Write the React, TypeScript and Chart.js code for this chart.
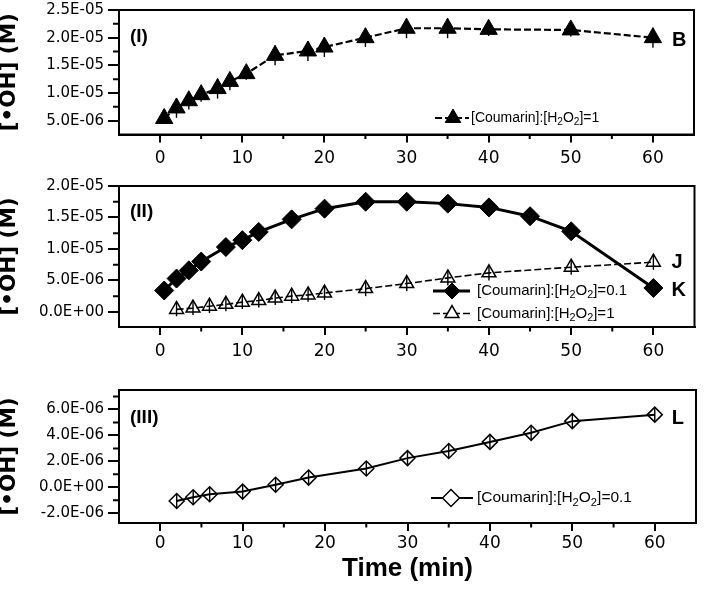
import React, { useEffect, useRef } from 'react';
import { Chart, registerables } from 'chart.js';
import { drawPoint } from 'chart.js/helpers';

Chart.register(...registerables);

const TICK_FONT = "'DejaVu Sans', sans-serif";
const TEXT_FONT = "'Liberation Sans', Arial, sans-serif";
const TITLE_FONT_Y = "'DejaVu Sans', sans-serif";

// ---------------- data ----------------
const xTickValues = [0, 10, 20, 30, 40, 50, 60];
const xMinorValues = [5, 15, 25, 35, 45, 55];
const xTitle = 'Time (min)';
const yTitle = '[•OH] (M)';

const labelRatio1 = '[Coumarin]:[H2O2]=1';
const labelRatio01 = '[Coumarin]:[H2O2]=0.1';

// Panel (I) – series B
const timeB = [0.5, 2, 3.5, 5, 7, 8.5, 10.5, 14, 18, 20, 25, 30, 35, 40, 50, 60];
const ohB = [5.4e-6, 7.3e-6, 8.6e-6, 9.7e-6, 1.08e-5, 1.21e-5, 1.35e-5, 1.68e-5, 1.76e-5, 1.83e-5, 2.0e-5, 2.17e-5, 2.17e-5, 2.15e-5, 2.14e-5, 2.0e-5];
const errB = [0.9e-6, 1.8e-6, 1.6e-6, 1.3e-6, 1.8e-6, 1.6e-6, 1.1e-6, 1.8e-6, 1.8e-6, 1.8e-6, 1.7e-6, 1.8e-6, 1.8e-6, 1.2e-6, 1.2e-6, 1.8e-6];
const yTicksI = [5e-6, 1.0e-5, 1.5e-5, 2.0e-5, 2.5e-5];
const yMinorI = [7.5e-6, 1.25e-5, 1.75e-5, 2.25e-5];

// Panel (II) – series K (ratio 0.1) and J (ratio 1)
const timeK = [0.5, 2, 3.5, 5, 8, 10, 12, 16, 20, 25, 30, 35, 40, 45, 50, 60];
const ohK = [3.4e-6, 5.3e-6, 6.6e-6, 8.0e-6, 1.03e-5, 1.14e-5, 1.27e-5, 1.47e-5, 1.64e-5, 1.75e-5, 1.75e-5, 1.72e-5, 1.66e-5, 1.52e-5, 1.28e-5, 3.8e-6];
const timeJ = [2, 4, 6, 8, 10, 12, 14, 16, 18, 20, 25, 30, 35, 40, 50, 60];
const ohJ = [4e-7, 6e-7, 9e-7, 1.2e-6, 1.55e-6, 1.8e-6, 2.2e-6, 2.5e-6, 2.7e-6, 3.0e-6, 3.7e-6, 4.5e-6, 5.4e-6, 6.2e-6, 7.1e-6, 7.9e-6];
const errJ = [1.1e-6, 1.1e-6, 1.1e-6, 1.1e-6, 1.1e-6, 1.1e-6, 1.1e-6, 1.1e-6, 1.1e-6, 1.1e-6, 1.2e-6, 1.2e-6, 1.2e-6, 1.2e-6, 1.2e-6, 1.2e-6];
const yTicksII = [0, 5e-6, 1.0e-5, 1.5e-5, 2.0e-5];
const yMinorII = [2.5e-6, 7.5e-6, 1.25e-5, 1.75e-5];

// Panel (III) – series L
const timeL = [2, 4, 6, 10, 14, 18, 25, 30, 35, 40, 45, 50, 60];
const ohL = [-1.05e-6, -7.7e-7, -5.3e-7, -3.3e-7, 2.0e-7, 7.5e-7, 1.45e-6, 2.25e-6, 2.8e-6, 3.5e-6, 4.2e-6, 5.1e-6, 5.6e-6];
const errL = [0.55e-6, 0.55e-6, 0.55e-6, 0.55e-6, 0.55e-6, 0.55e-6, 0.55e-6, 0.55e-6, 0.55e-6, 0.55e-6, 0.55e-6, 0.55e-6, 0.55e-6];
const yTicksIII = [-2e-6, 0, 2e-6, 4e-6, 6e-6];
const yMinorIII = [-1e-6, 1e-6, 3e-6, 5e-6, 7e-6];

// ---------------- helpers ----------------
function sci(v: number): string {
  const s = v.toExponential(1);
  const [m, e] = s.split('e');
  const n = parseInt(e, 10);
  const sign = n < 0 ? '-' : '+';
  const mm = Math.abs(v) < 1e-15 ? '0.0' : m;
  return `${mm}E${sign}${String(Math.abs(n)).padStart(2, '0')}`;
}

function pts(xs: number[], ys: number[]) {
  return xs.map((x, i) => ({ x, y: ys[i] }));
}

function drawFormula(ctx: CanvasRenderingContext2D, text: string, x: number, y: number, size: number) {
  const parts = text.split(/(?<=[A-Za-z])(\d)/);
  let cx = x;
  ctx.textAlign = 'left';
  ctx.textBaseline = 'middle';
  parts.forEach((part, i) => {
    if (!part) return;
    const sub = i % 2 === 1;
    const fs = sub ? size * 0.72 : size;
    ctx.font = `${fs}px ${TEXT_FONT}`;
    ctx.fillText(part, cx, sub ? y + size * 0.3 : y);
    cx += ctx.measureText(part).width;
  });
}

type Decor = {
  yMinor: number[];
  panelLabel: string;
  panelDy: number;
  endLabels: { text: string; dataset: number; dx: number; dy: number }[];
  legend: {
    x0: number; x1: number; xm: number; xt: number; dy: number; rowGap: number; fontSize: number;
    items: { dataset: number; text: string; radius: number }[];
  };
};

function makeDecor(d: Decor) {
  return {
    id: 'decor',
    afterDatasetsDraw(chart: any) {
      const ctx: CanvasRenderingContext2D = chart.ctx;
      const xs = chart.scales.x;
      const ys = chart.scales.y;
      ctx.save();
      ctx.strokeStyle = '#000';
      ctx.lineWidth = 1.4;
      chart.data.datasets.forEach((ds: any) => {
        if (!ds.errors) return;
        ds.data.forEach((p: any, i: number) => {
          const e = ds.errors[i];
          const px = xs.getPixelForValue(p.x);
          ctx.beginPath();
          ctx.moveTo(px, ys.getPixelForValue(p.y - e));
          ctx.lineTo(px, ys.getPixelForValue(p.y + e));
          ctx.stroke();
        });
      });
      ctx.restore();
    },
    afterDraw(chart: any) {
      const ctx: CanvasRenderingContext2D = chart.ctx;
      const ca = chart.chartArea;
      const xs = chart.scales.x;
      const ys = chart.scales.y;
      ctx.save();
      ctx.strokeStyle = '#000';
      ctx.lineWidth = 2;
      ctx.strokeRect(ca.left, ca.top, ca.right - ca.left, ca.bottom - ca.top);
      // minor ticks
      ctx.beginPath();
      xMinorValues.forEach((v) => {
        const px = xs.getPixelForValue(v);
        ctx.moveTo(px, ca.bottom);
        ctx.lineTo(px, ca.bottom + 4.5);
      });
      d.yMinor.forEach((v) => {
        if (v < ys.min || v > ys.max) return;
        const py = ys.getPixelForValue(v);
        ctx.moveTo(ca.left, py);
        ctx.lineTo(ca.left - 6, py);
      });
      ctx.stroke();
      // panel label
      ctx.fillStyle = '#000';
      ctx.textAlign = 'left';
      ctx.textBaseline = 'middle';
      ctx.font = `bold 19px ${TEXT_FONT}`;
      ctx.fillText(d.panelLabel, ca.left + 11, ca.top + d.panelDy);
      // end labels
      d.endLabels.forEach((l) => {
        const meta = chart.getDatasetMeta(l.dataset);
        const pt = meta.data[meta.data.length - 1];
        ctx.font = `bold 20px ${TEXT_FONT}`;
        ctx.fillText(l.text, pt.x + l.dx, pt.y + l.dy);
      });
      // legend
      const lg = d.legend;
      lg.items.forEach((it, k) => {
        const ds = chart.data.datasets[it.dataset];
        const y = ca.top + lg.dy + k * lg.rowGap;
        ctx.save();
        ctx.strokeStyle = '#000';
        ctx.lineWidth = ds.borderWidth;
        ctx.setLineDash(ds.borderDash || []);
        ctx.beginPath();
        ctx.moveTo(ca.left + lg.x0, y);
        ctx.lineTo(ca.left + lg.x1, y);
        ctx.stroke();
        ctx.setLineDash([]);
        ctx.fillStyle = ds.pointBackgroundColor === '#000' ? '#000' : '#fff';
        ctx.lineWidth = ds.pointBorderWidth;
        drawPoint(ctx, { pointStyle: ds.pointStyle, radius: it.radius, rotation: 0, borderWidth: ds.pointBorderWidth } as any, ca.left + lg.xm, y);
        ctx.restore();
        ctx.fillStyle = '#000';
        drawFormula(ctx, it.text, ca.left + lg.xt, y, lg.fontSize);
      });
      ctx.restore();
    },
  };
}

function xScale(height: number, pad: number, showTitle: boolean) {
  return {
    type: 'linear',
    min: -5,
    max: 65,
    afterBuildTicks: (s: any) => {
      s.ticks = xTickValues.map((v) => ({ value: v }));
    },
    afterFit: (s: any) => {
      s.height = height;
    },
    ticks: {
      callback: (v: any) => String(v),
      padding: pad,
      color: '#000',
      maxRotation: 0,
      autoSkip: false,
      font: { family: TICK_FONT, size: 17 },
    },
    grid: { display: true, drawOnChartArea: false, drawTicks: true, tickLength: 8, tickWidth: 2, tickColor: '#000', color: '#000', lineWidth: 2 },
    border: { display: true, color: '#000', width: 2 },
    title: showTitle
      ? { display: true, text: xTitle, color: '#000', font: { family: TEXT_FONT, size: 26, weight: 'bold' }, padding: { top: 0, bottom: 7 } }
      : { display: false },
  };
}

function yScale(min: number, max: number, ticks: number[]) {
  return {
    type: 'linear',
    min,
    max,
    afterBuildTicks: (s: any) => {
      s.ticks = ticks.map((v) => ({ value: v }));
    },
    afterFit: (s: any) => {
      s.width = 119;
    },
    ticks: {
      callback: (v: any) => sci(Number(v)),
      padding: 4,
      color: '#000',
      autoSkip: false,
      font: { family: TICK_FONT, size: 15 },
    },
    grid: { display: true, drawOnChartArea: false, drawTicks: true, tickLength: 11, tickWidth: 2, tickColor: '#000', color: '#000', lineWidth: 2 },
    border: { display: true, color: '#000', width: 2 },
    title: { display: true, text: yTitle, color: '#000', font: { family: TITLE_FONT_Y, size: 21.5, weight: 'bold', lineHeight: 0.88 }, padding: 0 },
  };
}

function baseOptions(xs: any, ys: any) {
  return {
    animation: false,
    responsive: true,
    maintainAspectRatio: false,
    events: [],
    layout: { padding: { top: 20, right: 5.5, bottom: 0, left: 0 } },
    plugins: { legend: { display: false }, tooltip: { enabled: false }, title: { display: false } },
    scales: { x: xs, y: ys },
  };
}

const TRANSPARENT = 'rgba(0,0,0,0)';

function buildI(): any {
  return {
    type: 'line',
    data: {
      datasets: [
        {
          label: labelRatio1,
          data: pts(timeB, ohB),
          errors: errB,
          borderColor: '#000',
          borderWidth: 2.2,
          borderDash: [7, 3],
          pointStyle: 'triangle',
          pointRadius: 10,
          pointBackgroundColor: '#000',
          pointBorderColor: '#000',
          pointBorderWidth: 1,
          fill: false,
          tension: 0,
        },
      ],
    },
    options: baseOptions(xScale(45.5, 6, false), yScale(2.5e-6, 2.5e-5, yTicksI)),
    plugins: [
      makeDecor({
        yMinor: yMinorI,
        panelLabel: '(I)',
        panelDy: 27,
        endLabels: [{ text: 'B', dataset: 0, dx: 19, dy: 3 }],
        legend: { x0: 316, x1: 350, xm: 334, xt: 352, dy: 108, rowGap: 0, fontSize: 14, items: [{ dataset: 0, text: labelRatio1, radius: 9 }] },
      }),
    ],
  };
}

function buildII(): any {
  return {
    type: 'line',
    data: {
      datasets: [
        {
          label: labelRatio01,
          data: pts(timeK, ohK),
          borderColor: '#000',
          borderWidth: 3,
          pointStyle: 'rectRot',
          pointRadius: 9.5,
          pointBackgroundColor: '#000',
          pointBorderColor: '#000',
          pointBorderWidth: 1,
          fill: false,
          tension: 0,
        },
        {
          label: labelRatio1,
          data: pts(timeJ, ohJ),
          errors: errJ,
          borderColor: '#000',
          borderWidth: 1.6,
          borderDash: [7, 3],
          pointStyle: 'triangle',
          pointRadius: 8,
          pointBackgroundColor: TRANSPARENT,
          pointBorderColor: '#000',
          pointBorderWidth: 1.5,
          fill: false,
          tension: 0,
        },
      ],
    },
    options: baseOptions(xScale(43, 6, false), yScale(-2.4e-6, 2.0e-5, yTicksII)),
    plugins: [
      makeDecor({
        yMinor: yMinorII,
        panelLabel: '(II)',
        panelDy: 26,
        endLabels: [
          { text: 'J', dataset: 1, dx: 18, dy: 0 },
          { text: 'K', dataset: 0, dx: 18, dy: 2.5 },
        ],
        legend: {
          x0: 314, x1: 351, xm: 333, xt: 358, dy: 105, rowGap: 22.5, fontSize: 15,
          items: [
            { dataset: 0, text: labelRatio01, radius: 8 },
            { dataset: 1, text: labelRatio1, radius: 8 },
          ],
        },
      }),
    ],
  };
}

function buildIII(): any {
  return {
    type: 'line',
    data: {
      datasets: [
        {
          label: labelRatio01,
          data: pts(timeL, ohL),
          errors: errL,
          borderColor: '#000',
          borderWidth: 2,
          pointStyle: 'rectRot',
          pointRadius: 7.5,
          pointBackgroundColor: TRANSPARENT,
          pointBorderColor: '#000',
          pointBorderWidth: 1.5,
          fill: false,
          tension: 0,
        },
      ],
    },
    options: baseOptions(xScale(68, 2, true), yScale(-2.75e-6, 7.5e-6, yTicksIII)),
    plugins: [
      makeDecor({
        yMinor: yMinorIII,
        panelLabel: '(III)',
        panelDy: 28,
        endLabels: [{ text: 'L', dataset: 0, dx: 17, dy: 4 }],
        legend: { x0: 312, x1: 354, xm: 332, xt: 358, dy: 108, rowGap: 0, fontSize: 15.5, items: [{ dataset: 0, text: labelRatio01, radius: 8.5 }] },
      }),
    ],
  };
}

function ChartPanel({ top, height, build }: { top: number; height: number; build: () => any }) {
  const ref = useRef<HTMLCanvasElement | null>(null);
  useEffect(() => {
    if (!ref.current) return;
    const chart = new Chart(ref.current, build());
    return () => chart.destroy();
  }, [build]);
  return (
    <div style={{ position: 'absolute', left: 0, top, width: 705, height }}>
      <canvas ref={ref} />
    </div>
  );
}

export default function App() {
  return (
    <div style={{ position: 'absolute', left: 0, top: 0, width: 705, height: 591, background: '#fff' }}>
      <ChartPanel top={-10} height={190} build={buildI} />
      <ChartPanel top={166} height={204} build={buildII} />
      <ChartPanel top={370} height={221} build={buildIII} />
    </div>
  );
}
